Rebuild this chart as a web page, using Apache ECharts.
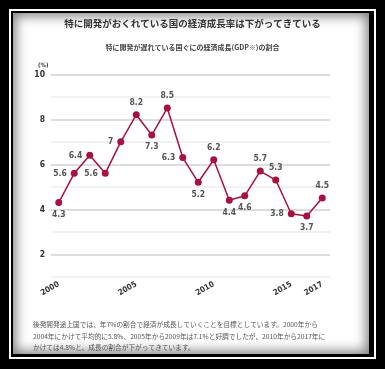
<!DOCTYPE html>
<html><head><meta charset="utf-8">
<script src="https://cdn.jsdelivr.net/npm/echarts@6/dist/echarts.min.js"></script>
<style>
html,body{margin:0;padding:0;background:#000;width:385px;height:369px;overflow:hidden;}
#frame{position:absolute;left:9px;top:9px;width:363px;height:346px;border:2px solid #fff;}
#panel{position:absolute;left:13px;top:13px;width:356px;height:341px;background:#fff;box-shadow:inset 0 0 12px 3px rgba(0,0,0,0.5);}
#chart{position:absolute;left:0;top:0;width:385px;height:369px;}
</style></head>
<body>
<div id="frame"></div>
<div id="panel"></div>
<div id="chart"></div>
<script>
var years = ['2000','2001','2002','2003','2004','2005','2006','2007','2008','2009','2010','2011','2012','2013','2014','2015','2016','2017'];
var growth = [4.3, 5.6, 6.4, 5.6, 7, 8.2, 7.3, 8.5, 6.3, 5.2, 6.2, 4.4, 4.6, 5.7, 5.3, 3.8, 3.7, 4.5];
var labelSides = ['bottom','left','left','left','left','top','bottom','top','left','bottom','top','bottom','bottom','top','top','left','bottom','top'];
var shownYearLabels = ['2000','2005','2010','2015','2017'];
var yTickLabels = [2, 4, 6, 8, 10];
var titleText = '特に開発がおくれている国の経済成長率は下がってきている';
var subtitleText = '特に開発が遅れている国ぐにの経済成長(GDP※)の割合';
var unitText = '(%)';
var noteLines = [
  '後発開発途上国では、年7%の割合で経済が成長していくことを目標としています。2000年から',
  '2004年にかけて平均的に5.8%、2005年から2009年は7.1%と好調でしたが、2010年から2017年に',
  'かけては4.8%と、成長の割合が下がってきています。'
];

var numFont = "'Liberation Sans Narrow','DejaVu Sans Condensed','Roboto',sans-serif";
var jpFont = "'Noto Sans CJK JP','Noto Sans',sans-serif";
var red = '#a6123f';

var chart = echarts.init(document.getElementById('chart'), null, {renderer:'canvas'});
var data = growth.map(function(v,i){
  return {value:v, label:{position:labelSides[i]}};
});
var graphics = [
  {type:'text', left:'center', top:19, style:{text:titleText, font:'bold 9.5px '+jpFont, fill:'#333'}},
  {type:'text', left:'center', top:44, style:{text:subtitleText, font:'bold 7px '+jpFont, fill:'#444'}},
  {type:'text', left:38, top:62, style:{text:unitText, font:'bold 6px '+numFont, fill:'#333'}}
];
noteLines.forEach(function(t,i){
  graphics.push({type:'text', left:33, top:321.5 + i*11.5, style:{text:t, font:'6.7px '+jpFont, fill:'#555'}});
});
chart.setOption({
  animation:false,
  grid:{left:51, right:55, top:74.3, bottom:92.2, containLabel:false},
  xAxis:{
    type:'category', data:years, boundaryGap:true,
    axisLine:{show:false}, axisTick:{show:false},
    axisLabel:{
      interval:function(i,v){return shownYearLabels.indexOf(v)>=0;},
      rotate:30, margin:7, color:'#333', fontSize:8, fontWeight:'bold', fontFamily:numFont
    },
    splitLine:{show:false}
  },
  yAxis:{
    type:'value', min:1, max:10, interval:1,
    axisLine:{show:false}, axisTick:{show:false},
    axisLabel:{
      margin:6, color:'#333', fontSize:8.5, fontWeight:'bold', fontFamily:numFont,
      formatter:function(v){return yTickLabels.indexOf(v)>=0 ? String(v) : '';}
    },
    splitLine:{lineStyle:{color:['#ececec','#d2d2d2'], width:1.5}}
  },
  series:[{
    type:'line', data:data, symbol:'circle', symbolSize:7,
    lineStyle:{color:red, width:1.5}, itemStyle:{color:red},
    label:{show:true, distance:4, color:'#555', fontSize:8.5, fontWeight:'bold', fontFamily:numFont}
  }],
  graphic:graphics
});
</script>
</body></html>
